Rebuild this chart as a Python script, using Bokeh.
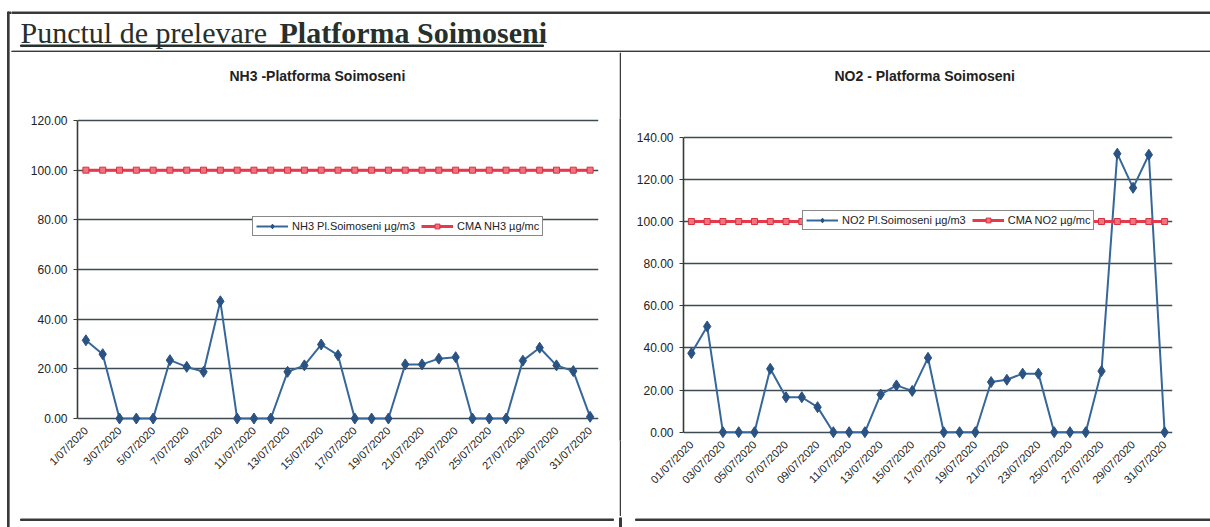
import math
from bokeh.plotting import figure
from bokeh.layouts import row, column
from bokeh.models import Range1d, FixedTicker, NumeralTickFormatter, Title
from bokeh.embed import file_html
from bokeh.resources import INLINE
from bokeh.core.properties import value

# ---------------- data ----------------
nh3_dates = ["1/07/2020", "2/07/2020", "3/07/2020", "4/07/2020", "5/07/2020", "6/07/2020",
             "7/07/2020", "8/07/2020", "9/07/2020", "10/07/2020", "11/07/2020", "12/07/2020",
             "13/07/2020", "14/07/2020", "15/07/2020", "16/07/2020", "17/07/2020", "18/07/2020",
             "19/07/2020", "20/07/2020", "21/07/2020", "22/07/2020", "23/07/2020", "24/07/2020",
             "25/07/2020", "26/07/2020", "27/07/2020", "28/07/2020", "29/07/2020", "30/07/2020",
             "31/07/2020"]
no2_dates = ["01/07/2020", "02/07/2020", "03/07/2020", "04/07/2020", "05/07/2020", "06/07/2020",
             "07/07/2020", "08/07/2020", "09/07/2020", "10/07/2020", "11/07/2020", "12/07/2020",
             "13/07/2020", "14/07/2020", "15/07/2020", "16/07/2020", "17/07/2020", "18/07/2020",
             "19/07/2020", "20/07/2020", "21/07/2020", "22/07/2020", "23/07/2020", "24/07/2020",
             "25/07/2020", "26/07/2020", "27/07/2020", "28/07/2020", "29/07/2020", "30/07/2020",
             "31/07/2020"]

nh3_values = [31.5, 25.9, 0, 0, 0, 23.5, 20.8, 18.8, 47.2, 0, 0, 0, 18.8, 21.4, 29.8, 25.5,
              0, 0, 0, 21.8, 21.8, 24.1, 24.7, 0, 0, 0, 23.3, 28.5, 21.4, 19.1, 0.7]
cma_nh3 = [100, 100, 100, 100, 100, 100, 100, 100, 100, 100, 100, 100, 100, 100, 100, 100,
           100, 100, 100, 100, 100, 100, 100, 100, 100, 100, 100, 100, 100, 100, 100]

no2_values = [37.5, 50.2, 0, 0, 0, 30.1, 16.6, 16.6, 11.9, 0, 0, 0, 17.9, 22.2, 19.6, 35.3,
              0, 0, 0, 23.8, 24.9, 27.8, 27.8, 0, 0, 0, 29.0, 132.2, 116.0, 131.7, 0]
cma_no2 = [100, 100, 100, 100, 100, 100, 100, 100, 100, 100, 100, 100, 100, 100, 100, 100,
           100, 100, 100, 100, 100, 100, 100, 100, 100, 100, 100, 100, 100, 100, 100]

nh3_yticks = [0, 20, 40, 60, 80, 100, 120]
no2_yticks = [0, 20, 40, 60, 80, 100, 120, 140]

page_title_regular = "Punctul de prelevare "
page_title_bold = "Platforma Soimoseni"
nh3_title = "NH3 -Platforma Soimoseni"
no2_title = "NO2 - Platforma Soimoseni"
nh3_series_label = "NH3 Pl.Soimoseni µg/m3"
nh3_cma_label = "CMA NH3 µg/mc"
no2_series_label = "NO2 Pl.Soimoseni µg/m3"
no2_cma_label = "CMA NO2 µg/mc"

# ---------------- styles ----------------
FRAME = "#383b3a"
TEXT = "#222222"
GRID = "#3e4b52"
BLUE_LINE = "#36679a"
BLUE_MARK = "#2a5283"
RED_LINE = "#e63a4c"
RED_MARK_FILL = "#ee7480"
RED_MARK_LINE = "#d8303f"
SANS = "Liberation Sans"


def blank(width, height, xr, yr, fill="white"):
    f = figure(width=width, height=height, x_range=Range1d(0, xr), y_range=Range1d(0, yr),
               toolbar_location=None, output_backend="svg",
               min_border_left=0, min_border_right=0, min_border_top=0, min_border_bottom=0)
    f.axis.visible = False
    f.grid.visible = False
    f.outline_line_color = None
    f.background_fill_color = fill
    f.border_fill_color = fill
    return f


def chart(width, height, borders, yrange, ymax, yticks, dates, series, cma,
          s_label, c_label, title, title_offset, label_standoff, legend_loc):
    n = len(dates)
    xs = [i + 1 for i in range(n)]
    p = figure(width=width, height=height,
               x_range=Range1d(0.5, n + 0.5), y_range=Range1d(*yrange),
               toolbar_location=None, output_backend="svg",
               min_border_left=borders[0], min_border_right=borders[1],
               min_border_top=borders[2], min_border_bottom=borders[3])
    p.outline_line_color = None
    p.background_fill_color = "white"
    p.border_fill_color = "white"
    p.xgrid.visible = False
    p.ygrid.ticker = FixedTicker(ticks=yticks)
    p.ygrid.grid_line_color = GRID
    p.ygrid.grid_line_width = 1.3

    # spacer between frame and title (pushes the title upwards)
    p.add_layout(Title(text=" ", text_font_size="16px", standoff=6), "above")

    # title
    p.title.text = title
    p.title.align = "left"
    p.title.offset = title_offset
    p.title.standoff = 20
    p.title.text_font = SANS
    p.title.text_font_style = "bold"
    p.title.text_font_size = "14px"
    p.title.text_color = TEXT

    # y axis
    p.yaxis.ticker = FixedTicker(ticks=yticks)
    p.yaxis.bounds = (0, ymax)
    p.yaxis.formatter = NumeralTickFormatter(format="0.00")
    p.yaxis.axis_line_color = FRAME
    p.yaxis.axis_line_width = 1.6
    p.yaxis.major_tick_out = 4
    p.yaxis.major_tick_in = 0
    p.yaxis.minor_tick_line_color = None
    p.yaxis.major_tick_line_color = FRAME
    p.yaxis.major_label_text_font = SANS
    p.yaxis.major_label_text_font_size = "12px"
    p.yaxis.major_label_text_color = TEXT
    p.yaxis.major_label_standoff = 6

    # x axis (category positions), labels every second day
    p.xaxis.ticker = FixedTicker(ticks=[x for x in xs if x % 2 == 1])
    p.xaxis.major_label_overrides = {x: d for x, d in zip(xs, dates) if x % 2 == 1}
    p.xaxis.major_label_orientation = math.pi / 4
    p.xaxis.axis_line_color = None
    p.xaxis.major_tick_line_color = None
    p.xaxis.minor_tick_line_color = None
    p.xaxis.major_label_text_font = SANS
    p.xaxis.major_label_text_font_size = "11px"
    p.xaxis.major_label_text_color = TEXT
    p.xaxis.major_label_standoff = label_standoff

    # series
    p.line(xs, series, line_color=BLUE_LINE, line_width=2, legend_label=s_label)
    p.scatter(xs, series, marker="diamond", size=11, fill_color=BLUE_MARK,
              line_color=BLUE_MARK, legend_label=s_label)
    p.line(xs, cma, line_color=RED_LINE, line_width=3, legend_label=c_label)
    p.scatter(xs, cma, marker="square", size=6, fill_color=RED_MARK_FILL,
              line_color=RED_MARK_LINE, line_width=1, legend_label=c_label)

    lg = p.legend[0]
    lg.location = legend_loc
    lg.orientation = "horizontal"
    lg.label_text_font = SANS
    lg.label_text_font_size = "11px"
    lg.label_text_color = TEXT
    lg.border_line_color = "#111111"
    lg.border_line_width = 1
    lg.background_fill_color = "white"
    lg.background_fill_alpha = 1
    lg.glyph_width = 32
    lg.glyph_height = 12
    lg.label_standoff = 4
    lg.spacing = 6
    lg.padding = 3
    lg.margin = 0
    lg.label_height = 12
    return p


# ---------------- layout pieces ----------------
# left frame edge (page x 0..11, y 0..527)
edge = blank(11, 527, 11, 527)
edge.quad(left=[7], right=[8.6], bottom=[0], top=[515.5], color=FRAME)
edge.quad(left=[7], right=[11], bottom=[514], top=[515.5], color=FRAME)

# header (page x 11..1210, y 0..52)
header = blank(1199, 52, 1199, 52)
header.quad(left=[0], right=[1199], bottom=[39], top=[40.5], color=FRAME)
header.quad(left=[0], right=[1199], bottom=[0], top=[1.4], color=FRAME)
header.text(x=[9], y=[20], text=[page_title_regular], text_font=value("Liberation Serif"),
            text_font_size="30px", text_color="#26302c", text_baseline="alphabetic")
header.text(x=[268], y=[20], text=[page_title_bold], text_font=value("Liberation Serif"),
            text_font_size="30px", text_font_style="bold", text_color="#26302c",
            text_baseline="alphabetic")
header.quad(left=[9], right=[532], bottom=[6], top=[7.5], color="#26302c")

# charts (page y 52..516); common frame from page y 118 to 440
left = chart(608, 464, (66, 21, 66, 76), (-8.85, 120.8), 120, nh3_yticks, nh3_dates,
             nh3_values, cma_nh3, nh3_series_label, nh3_cma_label, nh3_title, 152, -18,
             (175, 204))
sep = blank(2, 464, 2, 464, fill=FRAME)
right = chart(589, 464, (62, 38, 66, 76), (-3.94, 148.9), 140, no2_yticks, no2_dates,
              no2_values, cma_no2, no2_series_label, no2_cma_label, no2_title, 151, -4,
              (119, 210))

# footer (page y 516..527)
footer = blank(1199, 11, 1199, 11)
footer.quad(left=[9], right=[602], bottom=[8], top=[9.5], color=FRAME)
footer.quad(left=[608], right=[610], bottom=[0], top=[11], color=FRAME)
footer.quad(left=[624], right=[1199], bottom=[8], top=[9.5], color=FRAME)

layout = row(edge, column(header, row(left, sep, right, spacing=0), footer, spacing=0), spacing=0)

open("out.html", "w").write(file_html(layout, INLINE))
